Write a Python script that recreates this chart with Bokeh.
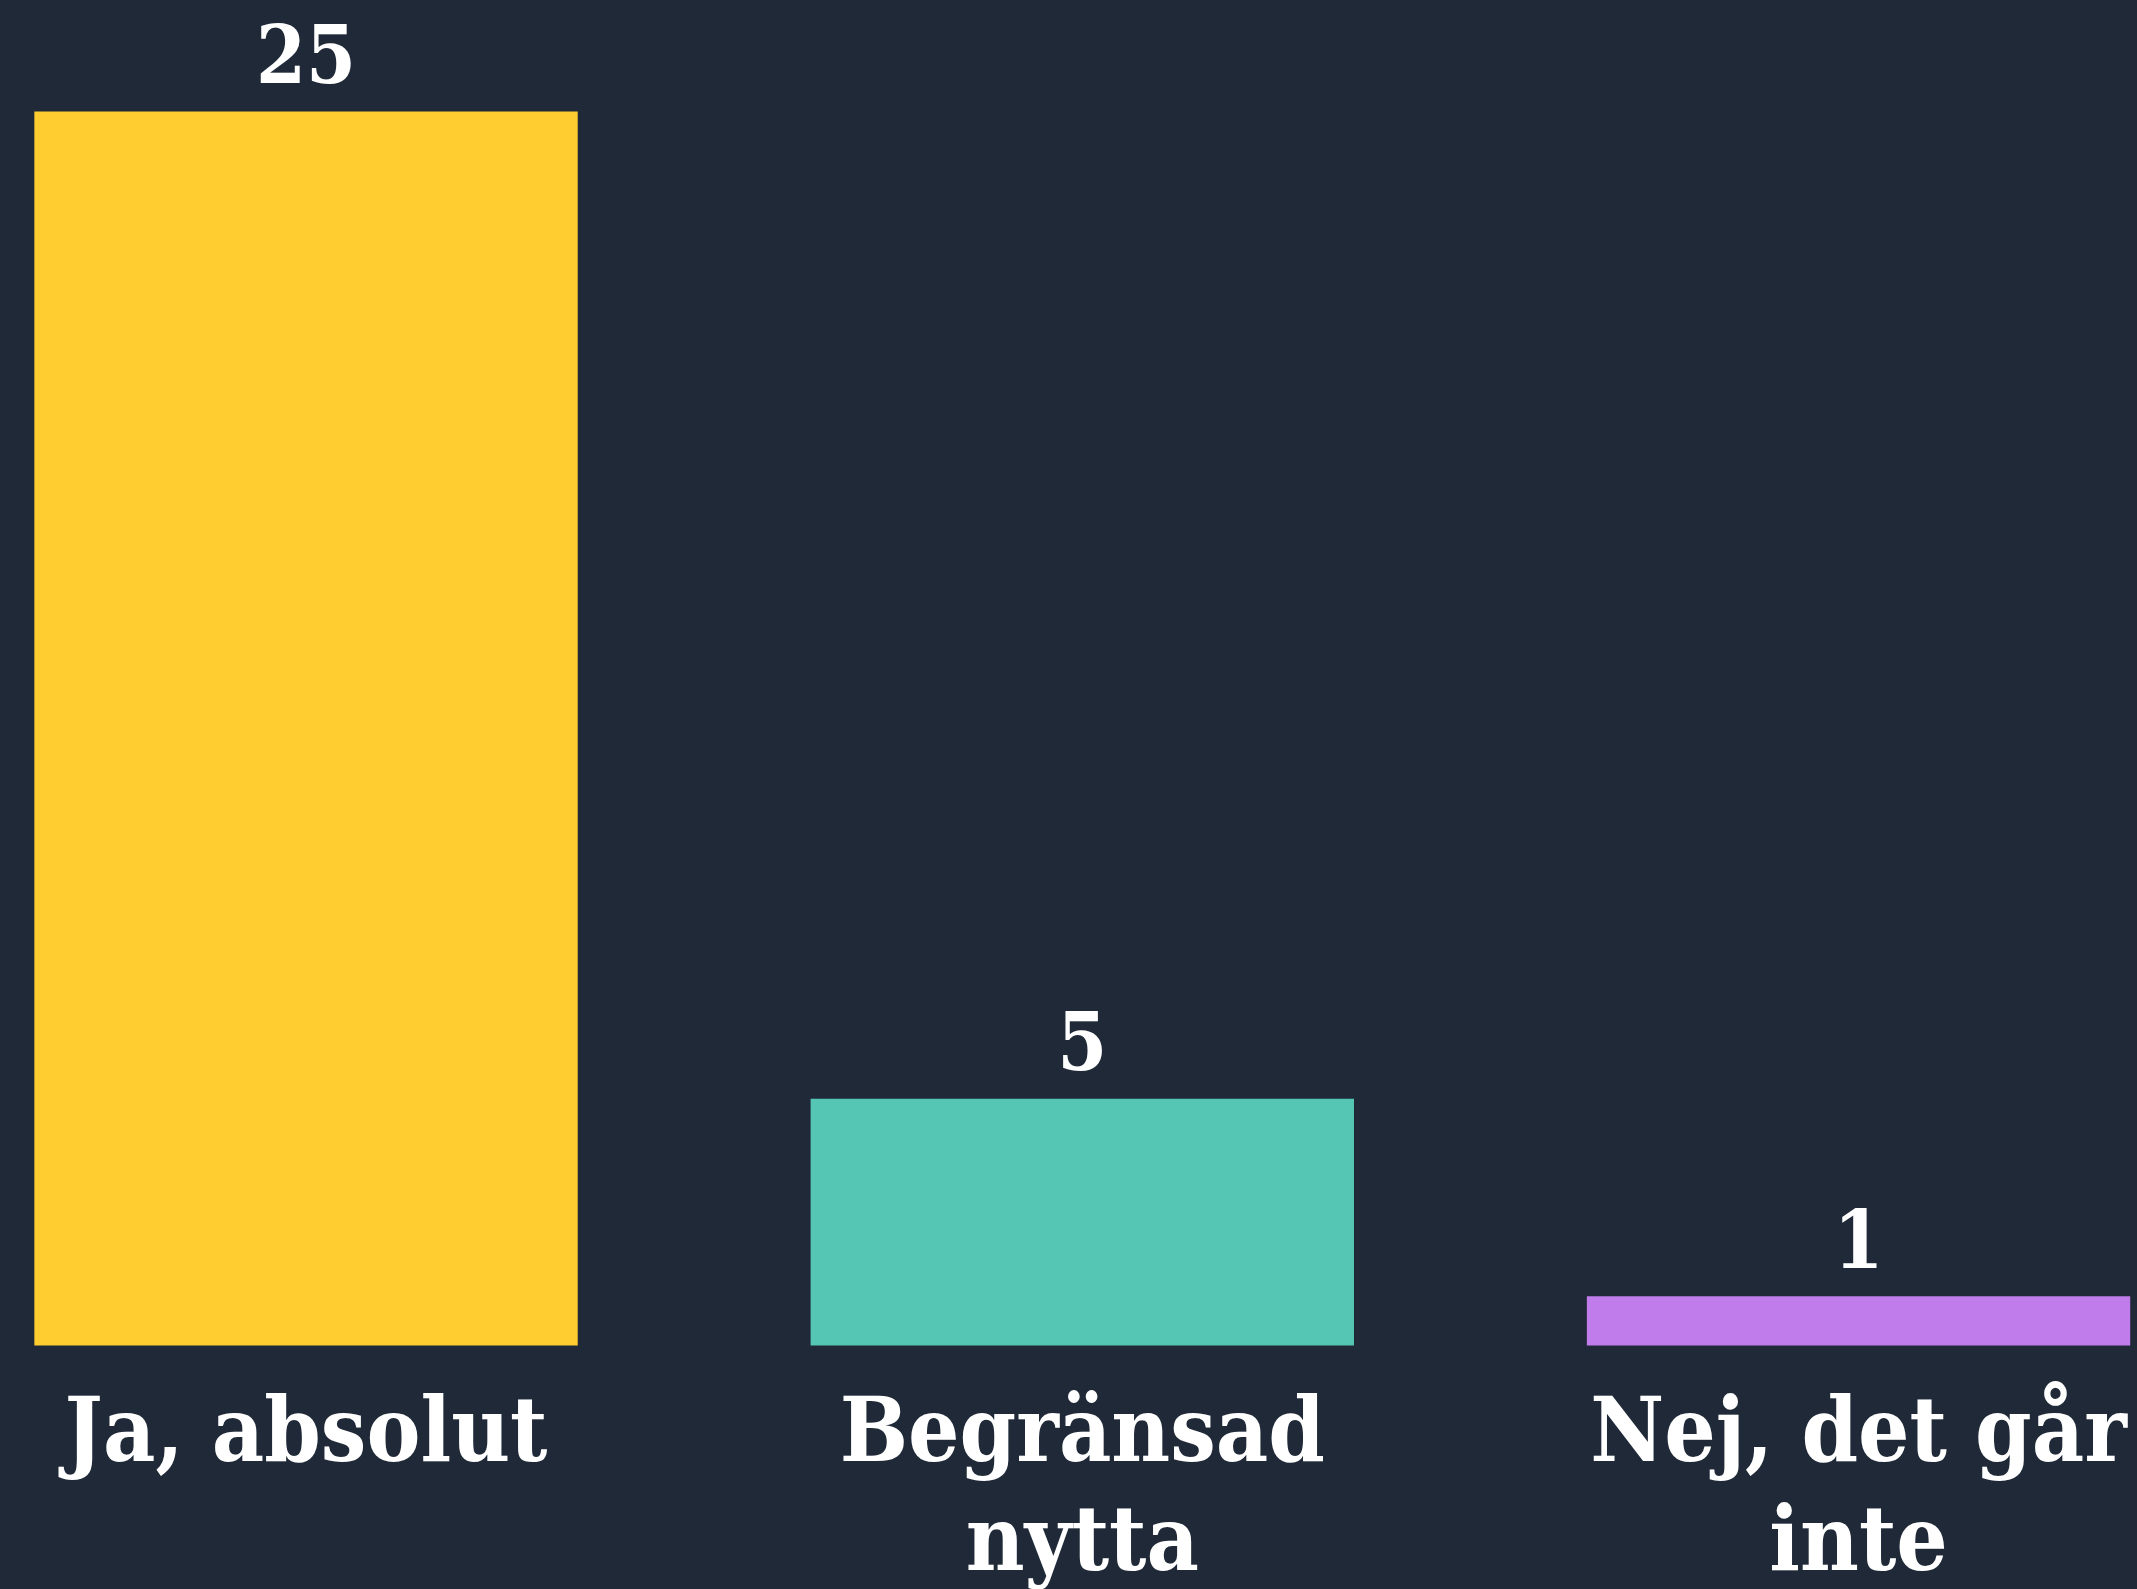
from bokeh.plotting import figure
from bokeh.models import ColumnDataSource, Range1d, GlobalInlineStyleSheet
from bokeh.core.properties import value
from bokeh.embed import file_html
from bokeh.resources import INLINE

# ---- data ----
categories = ["Ja, absolut", "Begränsad nytta", "Nej, det går inte"]
cat_labels = ["Ja, absolut", "Begränsad\nnytta", "Nej, det går\ninte"]
counts = [25, 5, 1]
colors = ["#FFCD30", "#56C6B4", "#BF7CEA"]

BG = "#1f2937"
FONT = "DejaVu Serif Condensed"

xpos = [i + 0.5 for i in range(len(categories))]
line1 = [lab.split("\n")[0] for lab in cat_labels]
line2 = [lab.split("\n")[1] if "\n" in lab else "" for lab in cat_labels]
src = ColumnDataSource(dict(x=xpos, top=counts, color=colors,
                            vlabel=[str(c) for c in counts],
                            l1=line1, l2=line2, zero=[0] * len(counts)))

p = figure(width=2137, height=1589, output_backend="svg", toolbar_location=None,
           x_range=Range1d(0.1064, 0.1064 + 2137 / 776.25),
           y_range=Range1d(-(1589 - 1345) / 49.36, 1345 / 49.36),
           min_border=0, background_fill_color=BG, border_fill_color=BG,
           outline_line_color=None)
p.axis.visible = False
p.grid.visible = False
p.stylesheets = [GlobalInlineStyleSheet(css="html, body { background-color: #1f2937; }")]

p.vbar(x="x", top="top", bottom=0, width=0.70, color="color", line_color=None, source=src)

p.text(x="x", y="top", text="vlabel", source=src, text_align="center",
       text_baseline="alphabetic", y_offset=-58, text_color="white",
       text_font=value(FONT), text_font_style="bold", text_font_size="80px")

p.text(x="x", y="zero", text="l1", source=src, text_align="center",
       text_baseline="alphabetic", y_offset=83, text_color="white",
       text_font=value(FONT), text_font_style="bold", text_font_size="90px")
p.text(x="x", y="zero", text="l2", source=src, text_align="center",
       text_baseline="alphabetic", y_offset=192, text_color="white",
       text_font=value(FONT), text_font_style="bold", text_font_size="90px")

open("out.html", "w").write(file_html(p, INLINE))
